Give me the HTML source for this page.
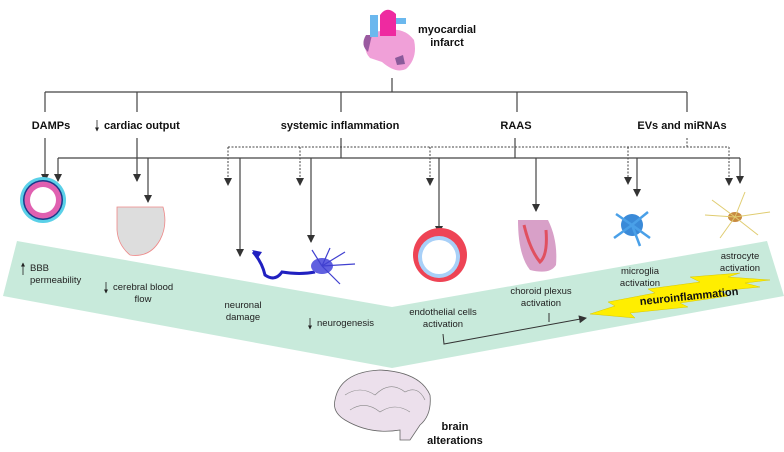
<!DOCTYPE html>
<html><head><meta charset="utf-8"><style>
html,body{margin:0;padding:0;background:#fff}
svg{display:block}
text{font-family:"Liberation Sans",sans-serif}
.b{font-weight:bold;font-size:11px;fill:#111}
.s{font-size:9.5px;fill:#222}
</style></head><body>
<svg width="784" height="452" viewBox="0 0 784 452" xmlns="http://www.w3.org/2000/svg">
<defs>
<marker id="a" markerWidth="8" markerHeight="8" refX="7" refY="4" orient="auto" markerUnits="userSpaceOnUse"><path d="M0,0 L8,4 L0,8 z" fill="#333"/></marker>
<marker id="m" markerWidth="4" markerHeight="4" refX="3.5" refY="2" orient="auto" markerUnits="userSpaceOnUse"><path d="M0,0 L4,2 L0,4 z" fill="#222"/></marker>
</defs>
<polygon points="17,241 392,307 767,241 784,296 392,368 3,296" fill="#c8eadb"/>
<!-- heart -->
<g>
<path d="M372,32 Q360,48 370,58 L382,62 Q396,74 406,69 Q418,58 414,40 Q405,28 390,30 Z" fill="#f0a0d8"/>
<path d="M366,35 Q360,45 368,52 L372,35 Z" fill="#9a5aa0"/>
<rect x="370" y="15" width="8" height="22" fill="#6bb8ee"/>
<rect x="392" y="18" width="14" height="6" fill="#6bb8ee"/>
<path d="M380,36 L380,15 Q387,5 396,14 L396,36 Z" fill="#ee2aa0"/>
<path d="M395,58 L403,55 L405,64 L397,65 Z" fill="#8a5a9a"/>
</g>
<text class="b" x="447" y="33" text-anchor="middle">myocardial</text>
<text class="b" x="447" y="46" text-anchor="middle">infarct</text>
<g stroke="#444" stroke-width="1.2" fill="none">
<line x1="392" y1="78" x2="392" y2="92"/>
<line x1="45" y1="92" x2="687" y2="92"/>
<line x1="45" y1="92" x2="45" y2="112"/>
<line x1="137" y1="92" x2="137" y2="112"/>
<line x1="341" y1="92" x2="341" y2="112"/>
<line x1="517" y1="92" x2="517" y2="112"/>
<line x1="687" y1="92" x2="687" y2="112"/>
</g>
<text class="b" x="51" y="129" text-anchor="middle">DAMPs</text>
<text class="b" x="104" y="129">cardiac output</text>
<line x1="97" y1="120" x2="97" y2="131" stroke="#222" stroke-width="0.8" marker-end="url(#m)"/>
<text class="b" x="340" y="129" text-anchor="middle">systemic inflammation</text>
<text class="b" x="516" y="129" text-anchor="middle">RAAS</text>
<text class="b" x="682" y="129" text-anchor="middle">EVs and miRNAs</text>
<g stroke="#444" stroke-width="1" fill="none" stroke-dasharray="2,1.5">
<line x1="228" y1="147" x2="729" y2="147"/>
<line x1="687" y1="138" x2="687" y2="147"/>
<line x1="228" y1="147" x2="228" y2="185" marker-end="url(#a)"/>
<line x1="300" y1="147" x2="300" y2="185" marker-end="url(#a)"/>
<line x1="430" y1="147" x2="430" y2="185" marker-end="url(#a)"/>
<line x1="628" y1="147" x2="628" y2="184" marker-end="url(#a)"/>
<line x1="729" y1="147" x2="729" y2="185" marker-end="url(#a)"/>
</g>
<g stroke="#444" stroke-width="1.2" fill="none">
<line x1="45" y1="138" x2="45" y2="181" marker-end="url(#a)"/>
<line x1="137" y1="138" x2="137" y2="181" marker-end="url(#a)"/>
<line x1="341" y1="138" x2="341" y2="158"/>
<line x1="515" y1="138" x2="515" y2="158"/>
<line x1="58" y1="158" x2="740" y2="158"/>
<line x1="58" y1="158" x2="58" y2="181" marker-end="url(#a)"/>
<line x1="148" y1="158" x2="148" y2="202" marker-end="url(#a)"/>
<line x1="240" y1="158" x2="240" y2="256" marker-end="url(#a)"/>
<line x1="311" y1="158" x2="311" y2="242" marker-end="url(#a)"/>
<line x1="439" y1="158" x2="439" y2="233" marker-end="url(#a)"/>
<line x1="536" y1="158" x2="536" y2="211" marker-end="url(#a)"/>
<line x1="637" y1="158" x2="637" y2="196" marker-end="url(#a)"/>
<line x1="740" y1="158" x2="740" y2="183" marker-end="url(#a)"/>
</g>
<circle cx="43" cy="200" r="23" fill="#5ad0e8"/>
<circle cx="43" cy="200" r="20" fill="#1a3a8a"/>
<circle cx="43" cy="200" r="18.5" fill="#e060b0"/>
<circle cx="43" cy="200" r="13" fill="#fff"/>
<path d="M117,207 L163,207 Q168,225 160,240 Q150,258 130,255 Q118,245 117,230 Z" fill="#ddd" stroke="#e88" stroke-width="0.8"/>
<path d="M253,252 Q262,262 265,275 Q275,282 282,272 Q300,275 315,272" stroke="#2020c0" stroke-width="3" fill="none"/>
<path d="M252,250 L262,252 L258,258 Z" fill="#2020c0"/>
<ellipse cx="322" cy="266" rx="11" ry="8" fill="#6060e0"/>
<g stroke="#4040d0" stroke-width="1.2"><line x1="322" y1="266" x2="330" y2="248"/><line x1="322" y1="266" x2="355" y2="264"/><line x1="322" y1="266" x2="340" y2="284"/><line x1="322" y1="266" x2="312" y2="250"/><line x1="322" y1="266" x2="345" y2="252"/></g>
<ellipse cx="440" cy="255" rx="27" ry="27" fill="#ee4455"/>
<circle cx="439" cy="257" r="21" fill="#a8d0f8"/>
<circle cx="439" cy="257" r="17" fill="#fff"/>
<path d="M518,220 L548,220 Q558,240 556,265 Q550,275 530,270 Q518,255 518,220 Z" fill="#d8a0c8"/>
<path d="M524,225 Q530,250 540,262 Q548,255 546,230" stroke="#e05060" stroke-width="3" fill="none"/>
<circle cx="632" cy="225" r="11" fill="#3a8ad8"/>
<g stroke="#4aa0e8" stroke-width="2.5"><line x1="632" y1="225" x2="616" y2="214"/><line x1="632" y1="225" x2="648" y2="212"/><line x1="632" y1="225" x2="614" y2="238"/><line x1="632" y1="225" x2="650" y2="238"/><line x1="632" y1="225" x2="640" y2="246"/></g>
<ellipse cx="735" cy="217" rx="7" ry="5" fill="#c88a40"/>
<g stroke="#e0cc70" stroke-width="1"><line x1="735" y1="217" x2="705" y2="215"/><line x1="735" y1="217" x2="770" y2="212"/><line x1="735" y1="217" x2="745" y2="192"/><line x1="735" y1="217" x2="720" y2="238"/><line x1="735" y1="217" x2="758" y2="235"/><line x1="735" y1="217" x2="712" y2="200"/></g>
<g class="s">
<text x="30" y="271">BBB</text><text x="30" y="283">permeability</text>
<text x="113" y="290">cerebral blood</text><text x="143" y="302" text-anchor="middle">flow</text>
<text x="243" y="308" text-anchor="middle">neuronal</text><text x="243" y="320" text-anchor="middle">damage</text>
<text x="317" y="326">neurogenesis</text>
<text x="443" y="315" text-anchor="middle">endothelial cells</text><text x="443" y="327" text-anchor="middle">activation</text>
<text x="541" y="294" text-anchor="middle">choroid plexus</text><text x="541" y="306" text-anchor="middle">activation</text>
<text x="640" y="274" text-anchor="middle">microglia</text><text x="640" y="286" text-anchor="middle">activation</text>
<text x="740" y="259" text-anchor="middle">astrocyte</text><text x="740" y="271" text-anchor="middle">activation</text>
</g>
<g stroke="#222" stroke-width="0.8"><line x1="23" y1="275" x2="23" y2="263" marker-end="url(#m)"/><line x1="106" y1="282" x2="106" y2="293" marker-end="url(#m)"/><line x1="310" y1="318" x2="310" y2="329" marker-end="url(#m)"/></g>
<polyline points="443,334 444,344 586,318" fill="none" stroke="#333" stroke-width="1" marker-end="url(#a)"/>
<line x1="549" y1="313" x2="549" y2="322" stroke="#333" stroke-width="1"/>
<polygon points="590,314 615,306 608,302 655,293 648,289 700,282 690,277 740,273 728,277 770,280 745,283 760,287 720,291 728,296 680,303 688,307 630,313 635,318" fill="#ffee00" stroke="#d8c800" stroke-width="0.5"/>
<text x="689" y="300" text-anchor="middle" transform="rotate(-6 689 296)" style="font-weight:bold;font-size:11px;fill:#111">neuroinflammation</text>
<path d="M335,400 Q340,372 380,370 Q420,372 430,395 Q432,415 420,425 L410,440 L400,440 L400,430 Q370,435 345,420 Q332,412 335,400 Z" fill="#ece0ec" stroke="#666" stroke-width="0.8"/>
<g stroke="#888" stroke-width="0.6" fill="none"><path d="M345,395 Q360,385 375,395 Q390,380 405,392 Q418,385 425,400"/><path d="M350,410 Q365,400 380,412 Q395,402 410,412"/></g>
<text class="b" x="455" y="430" text-anchor="middle">brain</text>
<text class="b" x="455" y="444" text-anchor="middle">alterations</text>
</svg>
</body></html>
